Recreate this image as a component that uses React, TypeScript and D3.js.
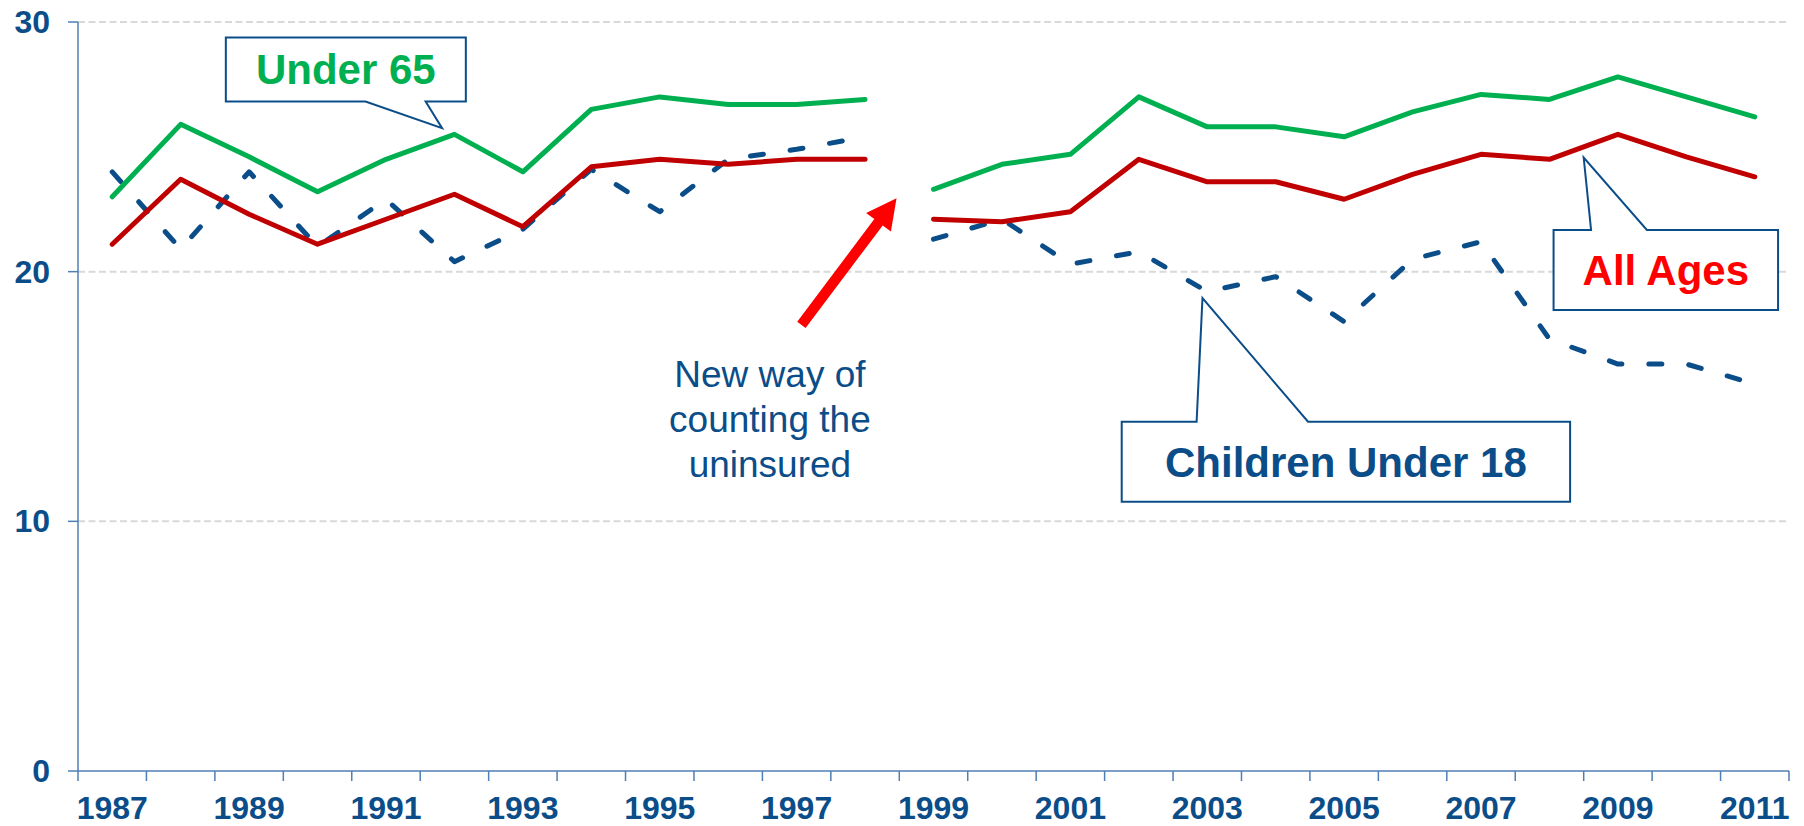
import * as d3 from "d3";

const W = 1804;
const H = 826;
const FONT = "'Liberation Sans', Arial, sans-serif";
const BLUE = "#0B4D88";
const AXIS = "#4F7FB5";

// categories
const years = [
  1987, 1988, 1989, 1990, 1991, 1992, 1993, 1994, 1995, 1996, 1997, 1998,
  1999, 2000, 2001, 2002, 2003, 2004, 2005, 2006, 2007, 2008, 2009, 2010, 2011,
];
const yearLabels = years.filter((y) => y % 2 === 1);
const yTicks = [0, 10, 20, 30];
// the survey method changed after this year -> lines break here
const breakAfter = 1998;

// % uninsured
const under65 = [
  23.0, 25.9, 24.6, 23.2, 24.5, 25.5, 24.0, 26.5, 27.0, 26.7, 26.7, 26.9,
  23.3, 24.3, 24.7, 27.0, 25.8, 25.8, 25.4, 26.4, 27.1, 26.9, 27.8, 27.0, 26.2,
];
const allAges = [
  21.1, 23.7, 22.3, 21.1, 22.1, 23.1, 21.8, 24.2, 24.5, 24.3, 24.5, 24.5,
  22.1, 22.0, 22.4, 24.5, 23.6, 23.6, 22.9, 23.9, 24.7, 24.5, 25.5, 24.6, 23.8,
];
const children18 = [
  24.0, 20.9, 24.0, 21.0, 22.9, 20.4, 21.7, 24.1, 22.4, 24.5, 24.9, 25.4,
  21.3, 22.1, 20.3, 20.8, 19.2, 19.8, 18.0, 20.5, 21.2, 17.3, 16.3, 16.3, 15.5,
];

type Pt = { year: number; v: number };

const MARGIN = { left: 78, right: 15, top: 22, bottom: 55 };

export default function App() {
  const x = d3
    .scaleBand<number>()
    .domain(years)
    .range([MARGIN.left, W - MARGIN.right])
    .paddingInner(0)
    .paddingOuter(0);
  const y = d3.scaleLinear().domain([0, 30]).range([H - MARGIN.bottom, MARGIN.top]);
  const bw = x.bandwidth();
  const cx = (yr: number) => (x(yr) as number) + bw / 2;
  // continuous year position for annotations
  const xv = d3.scaleLinear().domain([1987, 2011]).range([cx(1987), cx(2011)]);

  const line = d3
    .line<Pt>()
    .x((d) => cx(d.year))
    .y((d) => y(d.v));

  const segs = (vals: number[]) => {
    const pts = years.map((yr, i) => ({ year: yr, v: vals[i] }));
    return [
      line(pts.filter((p) => p.year <= breakAfter)) || "",
      line(pts.filter((p) => p.year > breakAfter)) || "",
    ];
  };

  const series = [
    { name: "Children Under 18", vals: children18, color: BLUE, dash: "13 27" },
    { name: "All Ages", vals: allAges, color: "#C00000", dash: undefined },
    { name: "Under 65", vals: under65, color: "#00B050", dash: undefined },
  ];

  const x0 = x.range()[0];
  const x1 = x.range()[1];
  const boundaries = [...years.map((yr) => x(yr) as number), x1];

  // callout: box + wedge pointing to tip
  const callout = (
    left: number,
    top: number,
    w: number,
    h: number,
    side: "top" | "bottom",
    wa: number,
    wb: number,
    tx: number,
    ty: number
  ) => {
    const r = left + w;
    const b = top + h;
    if (side === "top") {
      return `M${left},${top}H${left + wa}L${tx},${ty}L${left + wb},${top}H${r}V${b}H${left}Z`;
    }
    return `M${left},${top}H${r}V${b}H${left + wb}L${tx},${ty}L${left + wa},${b}H${left}Z`;
  };

  const arrow = (ax: number, ay: number, bx: number, by: number) => {
    const shaftW = 10.5;
    const headW = 31;
    const headL = 30;
    const dx = bx - ax;
    const dy = by - ay;
    const len = Math.hypot(dx, dy);
    const ux = dx / len;
    const uy = dy / len;
    const nx = -uy;
    const ny = ux;
    const hx = bx - ux * headL;
    const hy = by - uy * headL;
    const p = [
      [ax + (nx * shaftW) / 2, ay + (ny * shaftW) / 2],
      [hx + (nx * shaftW) / 2, hy + (ny * shaftW) / 2],
      [hx + (nx * headW) / 2, hy + (ny * headW) / 2],
      [bx, by],
      [hx - (nx * headW) / 2, hy - (ny * headW) / 2],
      [hx - (nx * shaftW) / 2, hy - (ny * shaftW) / 2],
      [ax - (nx * shaftW) / 2, ay - (ny * shaftW) / 2],
    ];
    return "M" + p.map((q) => q.join(",")).join("L") + "Z";
  };

  // annotation anchors in (year, value) units
  const u65 = { l: xv(1988.66), t: y(29.38), w: 240, h: 64 };
  const all = { l: xv(2008.06), t: y(21.67), w: 224.5, h: 80 };
  const kid = { l: xv(2001.75), t: y(13.99), w: 448.4, h: 80 };

  return (
    <svg
      width={W}
      height={H}
      style={{ position: "absolute", left: 0, top: 0, background: "#fff" }}
      fontFamily={FONT}
    >
      {/* grid */}
      {yTicks
        .filter((t) => t > 0)
        .map((t) => (
          <line
            key={t}
            x1={x0}
            x2={x1}
            y1={y(t)}
            y2={y(t)}
            stroke="#D9D9D9"
            strokeWidth={2}
            strokeDasharray="7 3.5"
          />
        ))}

      {/* y axis */}
      <line x1={x0} x2={x0} y1={y(0)} y2={y(30)} stroke={AXIS} strokeWidth={1.5} />
      {yTicks.map((t) => (
        <g key={t}>
          <line x1={x0 - 10} x2={x0} y1={y(t)} y2={y(t)} stroke={AXIS} strokeWidth={1.5} />
          <text
            x={50}
            y={y(t) + 11}
            textAnchor="end"
            fontSize={32}
            fontWeight="bold"
            fill={BLUE}
          >
            {t}
          </text>
        </g>
      ))}

      {/* x axis */}
      <line x1={x0} x2={x1} y1={y(0)} y2={y(0)} stroke={AXIS} strokeWidth={1.5} />
      {boundaries.map((bx, i) => (
        <line key={i} x1={bx} x2={bx} y1={y(0)} y2={y(0) + 10} stroke={AXIS} strokeWidth={1.5} />
      ))}
      {yearLabels.map((yr) => (
        <text
          key={yr}
          x={cx(yr)}
          y={819}
          textAnchor="middle"
          fontSize={32}
          fontWeight="bold"
          fill={BLUE}
        >
          {yr}
        </text>
      ))}

      {/* lines */}
      {series.map((s) =>
        segs(s.vals).map((d, i) => (
          <path
            key={s.name + i}
            d={d}
            fill="none"
            stroke={s.color}
            strokeWidth={5}
            strokeLinejoin="round"
            strokeLinecap="round"
            strokeDasharray={s.dash}
          />
        ))
      )}

      {/* red arrow + note */}
      <path d={arrow(xv(1997.07), y(17.87), xv(1998.46), y(22.94))} fill="#FF0000" />
      <text textAnchor="middle" fontSize={37} fill={BLUE}>
        {["New way of", "counting the", "uninsured"].map((s, i) => (
          <tspan key={i} x={xv(1996.61)} y={y(15.38) + i * 45}>
            {s}
          </tspan>
        ))}
      </text>

      {/* callouts */}
      <path
        d={callout(u65.l, u65.t, u65.w, u65.h, "bottom", 139.7, 199.8, xv(1991.82), y(25.75))}
        fill="#fff"
        stroke={BLUE}
        strokeWidth={2}
      />
      <text
        x={u65.l + u65.w / 2}
        y={u65.t + u65.h / 2 + 15}
        textAnchor="middle"
        fontSize={42}
        fontWeight="bold"
        fill="#00B050"
      >
        Under 65
      </text>

      <path
        d={callout(all.l, all.t, all.w, all.h, "top", 37.5, 93.3, xv(2008.5), y(24.57))}
        fill="#fff"
        stroke={BLUE}
        strokeWidth={2}
      />
      <text
        x={all.l + all.w / 2}
        y={all.t + all.h / 2 + 15}
        textAnchor="middle"
        fontSize={42}
        fontWeight="bold"
        fill="#FF0000"
      >
        All Ages
      </text>

      <path
        d={callout(kid.l, kid.t, kid.w, kid.h, "top", 74.9, 186.3, xv(2002.93), y(18.94))}
        fill="#fff"
        stroke={BLUE}
        strokeWidth={2}
      />
      <text
        x={kid.l + kid.w / 2}
        y={kid.t + kid.h / 2 + 15}
        textAnchor="middle"
        fontSize={42}
        fontWeight="bold"
        fill={BLUE}
      >
        Children Under 18
      </text>
    </svg>
  );
}
